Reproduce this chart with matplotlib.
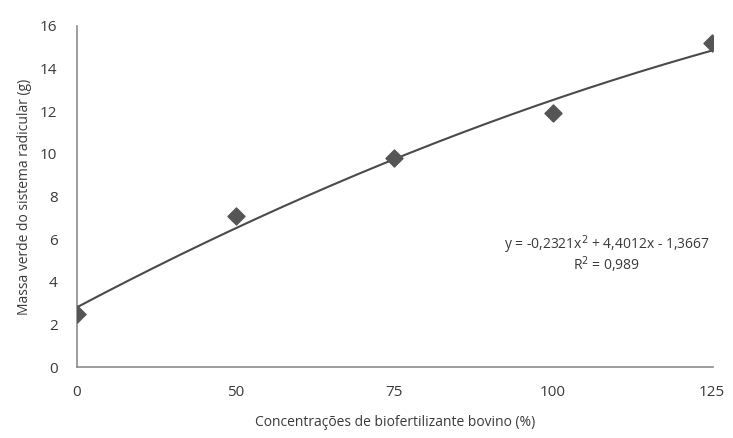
import numpy as np
import matplotlib.pyplot as plt

# Data
categorias = ['0', '50', '75', '100', '125']
massa = [2.5, 7.1, 9.8, 11.9, 15.2]
coef = [-0.2321, 4.4012, -1.3667]  # trendline y = a x^2 + b x + c
r2 = 0.989

plt.rcParams['font.family'] = ['Open Sans', 'DejaVu Sans']
cor_texto = '#3a3a3a'

fig = plt.figure(figsize=[7.33, 4.38], dpi=100)
ax = fig.add_axes([0.105, 0.162, 0.868, 0.779])

x = np.arange(1, len(massa) + 1)
ax.scatter(x, massa, marker='D', s=75, color='#555555', zorder=3)

xs = np.linspace(1, 5, 200)
ax.plot(xs, np.polyval(coef, xs), color='#4a4a4a', lw=1.5, zorder=2)

ax.set_xlim(1, 5.01)
ax.set_ylim(0, 16)
ax.set_xticks(x)
ax.set_xticklabels(categorias)
ax.set_yticks(range(0, 17, 2))
ax.tick_params(length=0, labelsize=11, colors=cor_texto)
ax.tick_params(axis='x', pad=13)
ax.tick_params(axis='y', pad=14)

for s in ['top', 'right']:
    ax.spines[s].set_visible(False)
for s in ['left', 'bottom']:
    ax.spines[s].set_color('#8c8c8c')
    ax.spines[s].set_linewidth(1.2)

ax.set_xlabel('Concentrações de biofertilizante bovino (%)', fontsize=10,
              color=cor_texto, labelpad=11)
ax.set_ylabel('Massa verde do sistema radicular (g)', fontsize=10,
              color=cor_texto, labelpad=6)

ax.text(4.34, 5.75, 'y = -0,2321x$^2$ + 4,4012x - 1,3667', fontsize=10,
        color=cor_texto, ha='center', va='center')
ax.text(4.34, 4.8, 'R$^2$ = 0,989', fontsize=10,
        color=cor_texto, ha='center', va='center')

fig.savefig('out.png', dpi=100)
